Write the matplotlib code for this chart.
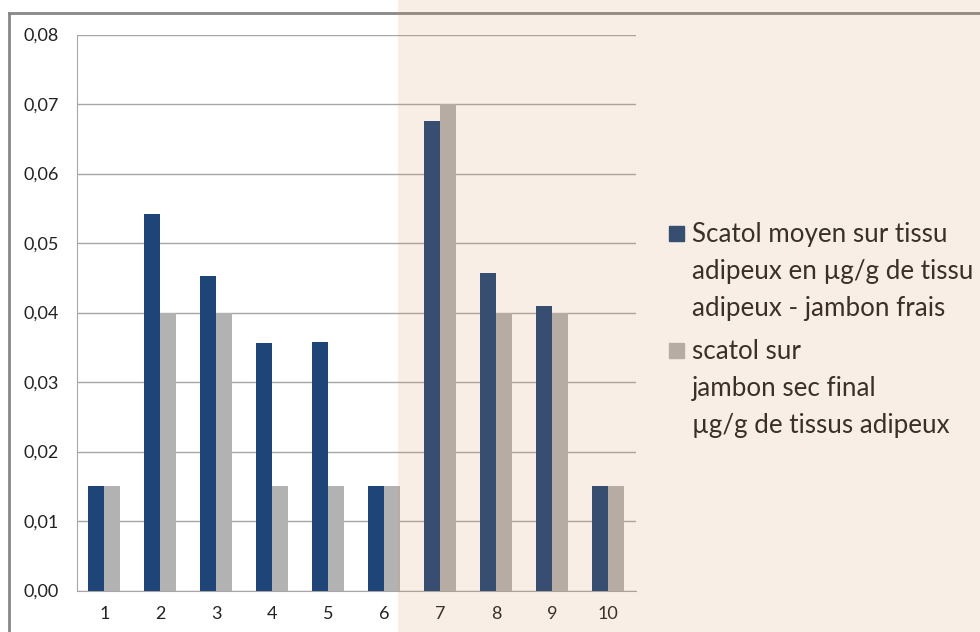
import matplotlib
matplotlib.use('Agg')
import matplotlib.pyplot as plt
from matplotlib.patches import Rectangle
from matplotlib.lines import Line2D
import numpy as np

categories = ['1', '2', '3', '4', '5', '6', '7', '8', '9', '10']
frais = [0.015, 0.0542, 0.0452, 0.0356, 0.0357, 0.015, 0.0675, 0.0457, 0.0409, 0.015]
sec = [0.015, 0.040, 0.040, 0.015, 0.015, 0.015, 0.070, 0.040, 0.040, 0.015]
labels = ['Scatol moyen sur tissu\nadipeux en \u00b5g/g de tissu\nadipeux - jambon frais',
          'scatol sur\njambon sec final\n\u00b5g/g de tissus adipeux']
colors = ['#1F4477', '#B2B2B2']

plt.rcParams['font.family'] = ['Lato', 'DejaVu Sans']
W, H = 980, 632
fig = plt.figure(figsize=(W / 100, H / 100), dpi=100)
ax = fig.add_axes([76.5 / W, 1 - 590.5 / H, (636 - 76.5) / W, (590.5 - 34.5) / H])

x = np.arange(len(categories))
bw = 16 / 56
ax.bar(x - bw / 2, frais, bw, color=colors[0], zorder=3)
ax.bar(x + bw / 2, sec, bw, color=colors[1], zorder=3)

ax.set_xlim(-0.5, len(categories) - 0.5)
ax.set_ylim(0, 0.08)
yt = np.arange(0, 0.081, 0.01)
ax.set_yticks(yt)
ax.set_yticklabels(['{:.2f}'.format(v).replace('.', ',') for v in yt])
ax.set_xticks(x)
ax.set_xticklabels(categories)
ax.tick_params(length=0, labelsize=13, colors='#222222')
ax.tick_params(axis='y', pad=13)
ax.tick_params(axis='x', pad=11)
ax.grid(axis='y', color='#A6A6A6', lw=1, zorder=0)
for s in ['top', 'right']:
    ax.spines[s].set_visible(False)
for s in ['left', 'bottom']:
    ax.spines[s].set_color('#A6A6A6')
ax.set_facecolor('none')

# outer frame (cropped chart border)
fig.add_artist(Line2D([9 / W, 1], [1 - 13 / H, 1 - 13 / H], color='#888888', lw=2))
fig.add_artist(Line2D([9 / W, 9 / W], [0, 1 - 13 / H], color='#888888', lw=2))

# legend drawn by hand, Excel style (marker on first line)
ys = [226, 343]
for lab, col, y0 in zip(labels, colors, ys):
    fig.add_artist(Rectangle((669 / W, 1 - (y0 + 15) / H), 15 / W, 15 / H, color=col))
    fig.text(692 / W, 1 - (y0 - 4) / H, lab, fontsize=18.7, color='#222222',
             va='top', ha='left', linespacing=1.6)

# tinted overlay on right part
fig.add_artist(Rectangle((398 / W, 0), 1 - 398 / W, 1, color='#D08C4C', alpha=0.14, lw=0, zorder=10))

fig.savefig('out.png', dpi=100)
